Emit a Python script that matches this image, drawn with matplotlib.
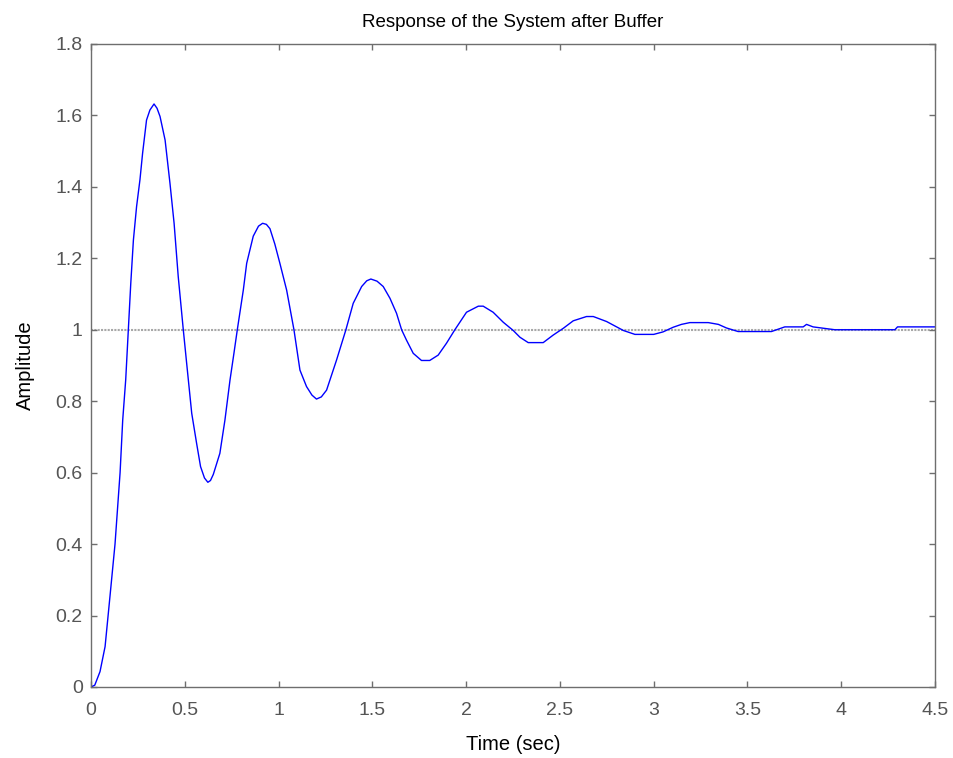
import matplotlib
matplotlib.use("Agg")
import matplotlib.pyplot as plt
import numpy as np

# step response (time in s, amplitude)
time_s = [0, 0.02, 0.048, 0.075, 0.101, 0.128, 0.155, 0.169, 0.185, 0.199,
          0.212, 0.226, 0.243, 0.261, 0.275, 0.296, 0.314, 0.336, 0.352, 0.368,
          0.395, 0.421, 0.443, 0.465, 0.492,
          0.51, 0.537, 0.563, 0.584, 0.605, 0.623, 0.637, 0.652, 0.687, 0.714,
          0.741, 0.762, 0.78, 0.812, 0.83, 0.865, 0.893, 0.915, 0.935, 0.954,
          0.98, 1.007, 1.043, 1.082, 1.114, 1.149, 1.178, 1.202, 1.228, 1.256,
          1.309, 1.359, 1.398, 1.443, 1.47, 1.492, 1.525, 1.558, 1.594,
          1.629, 1.656, 1.682, 1.718, 1.762, 1.806, 1.851, 1.895, 1.94, 2.002,
          2.065, 2.091, 2.144, 2.198, 2.251, 2.287, 2.331, 2.411, 2.464, 2.518,
          2.571, 2.642, 2.678, 2.749, 2.838, 2.9, 3.0, 3.05, 3.104, 3.148,
          3.193, 3.291, 3.345, 3.388, 3.45, 3.628, 3.699, 3.797, 3.815, 3.85,
          3.966, 4.286, 4.3, 4.5]
amplitude = [0, 0.005, 0.043, 0.113, 0.253, 0.40, 0.60, 0.747, 0.86, 1.0,
             1.13, 1.251, 1.345, 1.42, 1.494, 1.587, 1.615, 1.632, 1.62, 1.597,
             1.531, 1.41, 1.298, 1.149, 1.0,
             0.906, 0.766, 0.682, 0.617, 0.585, 0.573, 0.578, 0.595, 0.654, 0.747,
             0.859, 0.934, 1.0, 1.111, 1.186, 1.262, 1.29, 1.298, 1.295, 1.283,
             1.24, 1.186, 1.111, 1.0, 0.887, 0.841, 0.817, 0.806, 0.812, 0.831,
             0.915, 1.0, 1.074, 1.121, 1.137, 1.142, 1.136, 1.121, 1.088,
             1.046, 1.0, 0.971, 0.934, 0.914, 0.914, 0.929, 0.962, 1.0, 1.049,
             1.066, 1.066, 1.049, 1.021, 0.998, 0.979, 0.964, 0.964, 0.985, 1.004,
             1.025, 1.037, 1.037, 1.023, 0.998, 0.987, 0.987, 0.994, 1.007, 1.015,
             1.020, 1.020, 1.015, 1.005, 0.995, 0.995, 1.008, 1.008, 1.015, 1.008,
             1.0, 1.0, 1.008, 1.008]
steady_state = 1.0
x_ticks = [0, 0.5, 1, 1.5, 2, 2.5, 3, 3.5, 4, 4.5]
y_ticks = [0, 0.2, 0.4, 0.6, 0.8, 1, 1.2, 1.4, 1.6, 1.8]
y_ticklabels = ["0", "0.2", "0.4", "0.6", "0.8", "1", "1.2", "1.4", "1.6", "1.8"]

plt.rcParams["font.family"] = ["Liberation Sans", "DejaVu Sans"]

fig = plt.figure(figsize=(9.54, 7.58), dpi=100)
ax = fig.add_axes([0.0954, 0.0937, 0.8847, 0.8483])

ax.axhline(steady_state, color="#a8a8a8", lw=1.5, ls=(0, (1, 0.6)), zorder=1)
ax.plot(time_s, amplitude, color="#0000ff", lw=1.0, zorder=2)

ax.set_xlim(0, 4.5)
ax.set_ylim(0, 1.8)
ax.set_xticks(x_ticks)
ax.set_xticklabels([f"{v:g}" for v in x_ticks])
ax.set_yticks(y_ticks)
ax.set_yticklabels(y_ticklabels)

grey = "#6e6e6e"
for s in ax.spines.values():
    s.set_color(grey)
    s.set_linewidth(1.0)
ax.tick_params(direction="in", length=4, width=1, color=grey,
               top=True, right=True, labelsize=14, labelcolor="#555555")
ax.tick_params(axis="x", pad=11)
ax.tick_params(axis="y", pad=6)

ax.set_title("Response of the System after Buffer", fontsize=13.5, pad=12)
ax.set_xlabel("Time (sec)", fontsize=14.5, labelpad=11)
ax.set_ylabel("Amplitude", fontsize=14.5, labelpad=15)

fig.savefig("out.png", dpi=100)
